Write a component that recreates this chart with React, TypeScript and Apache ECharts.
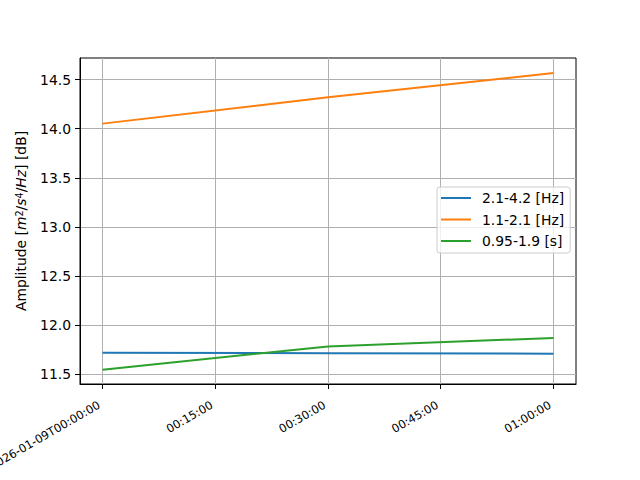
import React, { useEffect, useRef } from "react";
import * as echarts from "echarts";

// time in minutes after 2026-01-09T00:00:00
const timeMinutes = [0, 30, 60];
const seriesNames = ["2.1-4.2 [Hz]", "1.1-2.1 [Hz]", "0.95-1.9 [s]"];
const band1Values = [11.717, 11.712, 11.707];
const band2Values = [14.052, 14.321, 14.568];
const band3Values = [11.544, 11.781, 11.867];
const seriesColors = ["#1f77b4", "#ff7f0e", "#2ca02c"];
const xTickValues = [0, 15, 30, 45, 60];
const yTickValues = [11.5, 12.0, 12.5, 13.0, 13.5, 14.0, 14.5];
const startDate = "2026-01-09";

function fmtTime(m: number): string {
  const h = Math.floor(m / 60);
  const mm = Math.round(m % 60);
  const s = `${String(h).padStart(2, "0")}:${String(mm).padStart(2, "0")}:00`;
  return m === 0 ? `${startDate}T${s}` : s;
}

export default function App() {
  const ref = useRef<HTMLDivElement>(null);
  useEffect(() => {
    if (!ref.current) return;
    const chart = echarts.init(ref.current, undefined, { renderer: "svg" });
    const font = "DejaVu Sans";
    const allValues = [band1Values, band2Values, band3Values];
    chart.setOption({
      animation: false,
      backgroundColor: "#ffffff",
      textStyle: { fontFamily: font },
      grid: {
        left: 80,
        right: 64,
        top: 58,
        bottom: 96,
        containLabel: false,
        outerBoundsMode: "none",
        show: true,
        borderColor: "#000000",
        borderWidth: 1,
        backgroundColor: "transparent",
      },
      legend: {
        orient: "vertical",
        left: 437,
        top: 187,
        padding: [3, 6, 4, 4],
        itemGap: 5.5,
        itemWidth: 30,
        itemHeight: 2,
        icon: "rect",
        backgroundColor: "rgba(255,255,255,0.8)",
        borderColor: "#cccccc",
        borderWidth: 1,
        borderRadius: 3,
        textStyle: {
          fontFamily: font,
          fontSize: 13.9,
          lineHeight: 16,
          color: "#000000",
          padding: [0, 0, 0, 6],
        },
        data: seriesNames,
      },
      xAxis: {
        type: "value",
        min: -3,
        max: 63,
        axisLine: { show: true, onZero: false, lineStyle: { color: "#000", width: 1 } },
        axisTick: {
          show: true,
          length: 5,
          lineStyle: { color: "#000", width: 1 },
          customValues: xTickValues,
        },
        axisLabel: {
          customValues: xTickValues,
          rotate: 30,
          margin: 18,
          padding: [0, 4, 0, 0],
          fontFamily: font,
          fontSize: 11.5,
          color: "#000",
          formatter: (v: number) => fmtTime(v),
        },
        splitLine: { show: true, lineStyle: { color: "#b0b0b0", width: 1 } },
      },
      yAxis: {
        type: "value",
        min: 11.398,
        max: 14.721,
        name: "Amplitude [{i|m}{s|2}/{i|s}{s|4}/{i|Hz}] [dB]",
        nameLocation: "middle",
        nameGap: 52,
        nameTextStyle: {
          fontFamily: font,
          fontSize: 13.9,
          color: "#000",
          rich: {
            i: { fontFamily: font, fontSize: 13.9, fontStyle: "italic", color: "#000" },
            s: { fontFamily: font, fontSize: 9.7, verticalAlign: "top", color: "#000" },
          },
        },
        axisLine: { show: true, onZero: false, lineStyle: { color: "#000", width: 1 } },
        axisTick: {
          show: true,
          length: 5,
          lineStyle: { color: "#000", width: 1 },
          customValues: yTickValues,
        },
        axisLabel: {
          customValues: yTickValues,
          margin: 9,
          fontFamily: font,
          fontSize: 13.9,
          color: "#000",
          formatter: (v: number) => v.toFixed(1),
        },
        splitLine: { show: true, lineStyle: { color: "#b0b0b0", width: 1 } },
      },
      series: seriesNames.map((name, i) => ({
        name,
        type: "line",
        showSymbol: false,
        symbol: "none",
        color: seriesColors[i],
        lineStyle: { color: seriesColors[i], width: 2 },
        data: timeMinutes.map((t, j) => [t, allValues[i][j]]),
      })),
    });
    return () => chart.dispose();
  }, []);
  return (
    <div
      ref={ref}
      style={{ position: "fixed", left: 0, top: 0, width: 640, height: 480 }}
    />
  );
}
